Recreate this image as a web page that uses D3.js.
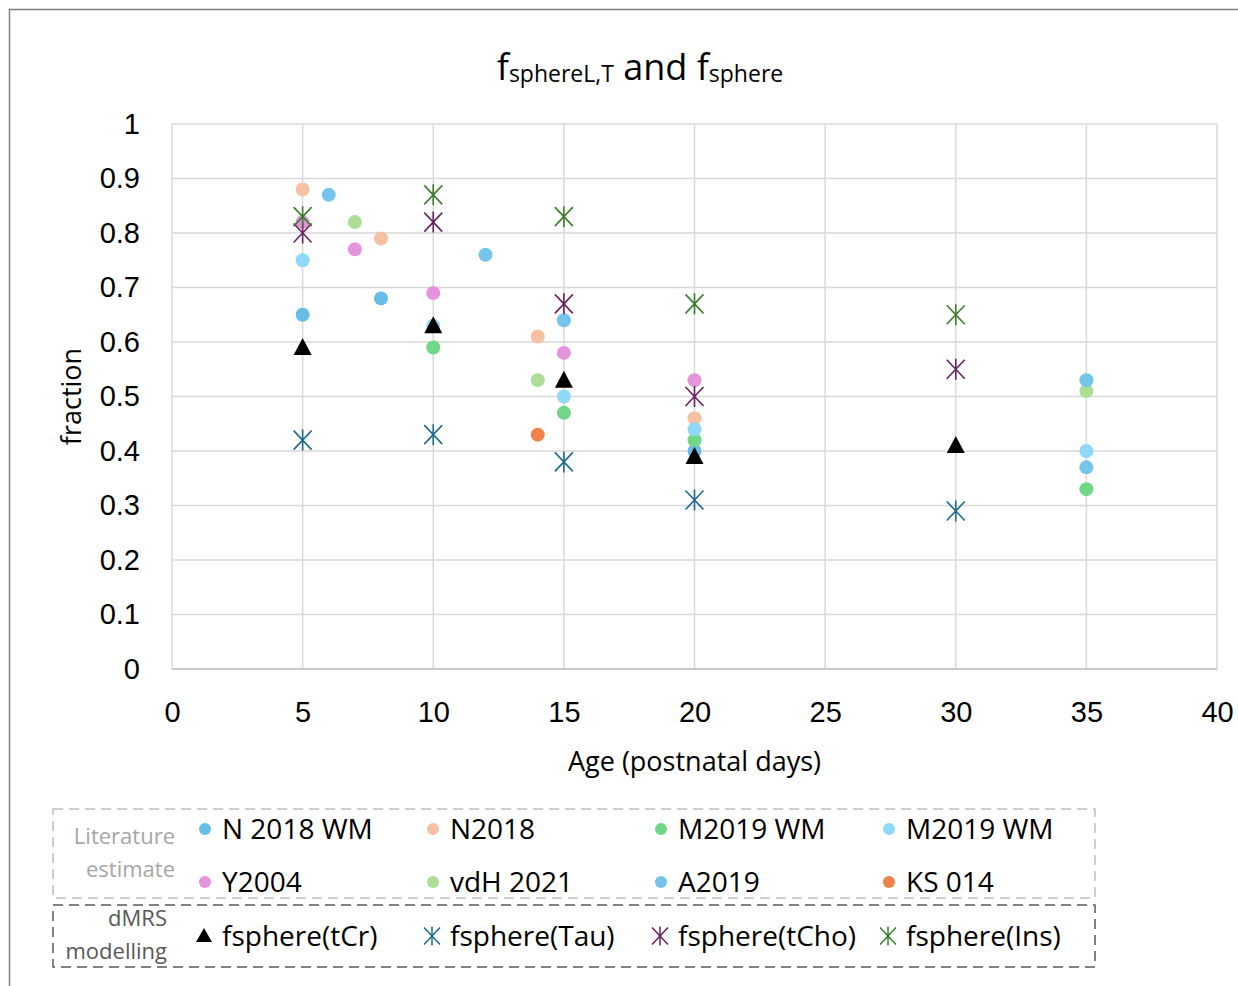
<!DOCTYPE html>
<html>
<head>
<meta charset="utf-8">
<script src="https://cdn.jsdelivr.net/npm/d3@7/dist/d3.min.js"></script>
<style>
  html, body { margin: 0; padding: 0; background: #fff; }
  svg { display: block; }
</style>
</head>
<body>
<svg id="chart" width="1238" height="986"></svg>
<script>
// ---- data ----
const xTicks = [0, 5, 10, 15, 20, 25, 30, 35, 40];
const yTicks = [0, 0.1, 0.2, 0.3, 0.4, 0.5, 0.6, 0.7, 0.8, 0.9, 1];

// literature estimates: [age, fraction]
const n2018wm  = [[5, 0.65], [8, 0.68], [20, 0.40]];
const n2018    = [[5, 0.88], [8, 0.79], [14, 0.61], [20, 0.46]];
const m2019wmA = [[10, 0.59], [15, 0.47], [20, 0.42], [35, 0.33]];
const m2019wmB = [[5, 0.75], [10, 0.63], [15, 0.50], [20, 0.44], [35, 0.40]];
const y2004    = [[5, 0.82], [7, 0.77], [10, 0.69], [15, 0.58], [20, 0.53]];
const vdh2021  = [[7, 0.82], [14, 0.53], [35, 0.51]];
const a2019    = [[6, 0.87], [12, 0.76], [15, 0.64], [35, 0.53], [35, 0.37]];
const ks014    = [[14, 0.43]];

// dMRS modelling
const fsphereTCr  = [[5, 0.59], [10, 0.63], [15, 0.53], [20, 0.39], [30, 0.41]];
const fsphereTau  = [[5, 0.42], [10, 0.43], [15, 0.38], [20, 0.31], [30, 0.29]];
const fsphereTCho = [[5, 0.80], [10, 0.82], [15, 0.67], [20, 0.50], [30, 0.55]];
const fsphereIns  = [[5, 0.83], [10, 0.87], [15, 0.83], [20, 0.67], [30, 0.65]];

const literature = [
  { name: "N 2018 WM", color: "#66bde6", data: n2018wm },
  { name: "N2018",     color: "#f5c1a2", data: n2018 },
  { name: "M2019 WM",  color: "#6fd785", data: m2019wmA },
  { name: "M2019 WM",  color: "#8fd8f7", data: m2019wmB },
  { name: "Y2004",     color: "#e394dc", data: y2004 },
  { name: "vdH 2021",  color: "#acdf95", data: vdh2021 },
  { name: "A2019",     color: "#74c4ec", data: a2019 },
  { name: "KS 014",    color: "#f0814a", data: ks014 }
];
const modelling = [
  { name: "fsphere(tCr)",  color: "#000000", shape: "triangle", data: fsphereTCr },
  { name: "fsphere(Tau)",  color: "#1f6b8c", shape: "star",     data: fsphereTau },
  { name: "fsphere(tCho)", color: "#6b2060", shape: "star",     data: fsphereTCho },
  { name: "fsphere(Ins)",  color: "#3b7d2c", shape: "star",     data: fsphereIns }
];

// ---- layout ----
const svg = d3.select("#chart");
const plot = { left: 172, right: 1217, top: 124, bottom: 669 };
const x = d3.scaleLinear().domain([0, 40]).range([plot.left, plot.right]);
const y = d3.scaleLinear().domain([0, 1]).range([plot.bottom, plot.top]);

const tickFont = "'Liberation Sans', Arial, sans-serif";
const textFont = "'Open Sans', 'Noto Sans', sans-serif";

// outer frame
svg.append("rect")
  .attr("x", 9.5).attr("y", 9.5).attr("width", 1240).attr("height", 990)
  .attr("fill", "none").attr("stroke", "#7f7f7f").attr("stroke-width", 1.5);

// gridlines
const grid = svg.append("g");
grid.selectAll("line.h").data(yTicks).join("line")
  .attr("x1", plot.left).attr("x2", plot.right)
  .attr("y1", d => y(d)).attr("y2", d => y(d))
  .attr("stroke", "#d9d9d9").attr("stroke-width", 1.5);
grid.selectAll("line.v").data(xTicks).join("line")
  .attr("y1", plot.top).attr("y2", plot.bottom)
  .attr("x1", d => x(d)).attr("x2", d => x(d))
  .attr("stroke", "#d9d9d9").attr("stroke-width", 1.5);

// axes (labels only, lines handled by the grid)
const xAxis = svg.append("g")
  .attr("transform", `translate(0,${plot.bottom})`)
  .call(d3.axisBottom(x).tickValues(xTicks).tickSize(0).tickPadding(32).tickFormat(d3.format("d")));
const yAxis = svg.append("g")
  .attr("transform", `translate(${plot.left},0)`)
  .call(d3.axisLeft(y).tickValues(yTicks).tickSize(0).tickPadding(32).tickFormat(d => d === 0 || d === 1 ? d3.format("d")(d) : d3.format(".1f")(d)));
[xAxis, yAxis].forEach(a => {
  a.select(".domain").remove();
  a.selectAll("text").attr("font-family", tickFont).attr("font-size", 29).attr("fill", "#000");
});
svg.append("line")
  .attr("x1", plot.left).attr("x2", plot.right).attr("y1", plot.bottom).attr("y2", plot.bottom)
  .attr("stroke", "#bfbfbf").attr("stroke-width", 1.5);

// axis titles
svg.append("text")
  .attr("x", x(20)).attr("y", 771).attr("text-anchor", "middle")
  .attr("font-family", textFont).attr("font-size", 27).attr("fill", "#000")
  .text("Age (postnatal days)");
svg.append("text")
  .attr("transform", `translate(81,${y(0.5)}) rotate(-90)`).attr("text-anchor", "middle")
  .attr("font-family", textFont).attr("font-size", 27).attr("fill", "#000")
  .text("fraction");

// chart title with subscripts
const title = svg.append("text")
  .attr("x", 640).attr("y", 80).attr("text-anchor", "middle")
  .attr("font-family", textFont).attr("fill", "#000");
title.append("tspan").attr("font-size", 36).text("f");
title.append("tspan").attr("font-size", 23).attr("dy", 2).text("sphereL,T");
title.append("tspan").attr("font-size", 36).attr("dy", -2).text(" and f");
title.append("tspan").attr("font-size", 23).attr("dy", 2).text("sphere");

// marker shapes
const triPath = "M0,-9.5L9,7.5L-9,7.5Z";
const starPath = "M-9,-9.5L9,9.5M9,-9.5L-9,9.5M0,-10.5L0,10.5";

function drawMarker(g, shape, color) {
  if (shape === "circle") {
    g.append("circle").attr("r", 7).attr("fill", color);
  } else if (shape === "triangle") {
    g.append("path").attr("d", triPath).attr("fill", color);
  } else {
    g.append("path").attr("d", starPath).attr("fill", "none")
      .attr("stroke", color).attr("stroke-width", 1.6);
  }
}

// literature points
const pts = svg.append("g");
literature.forEach(s => {
  s.data.forEach(d => {
    const g = pts.append("g").attr("transform", `translate(${x(d[0])},${y(d[1])})`);
    drawMarker(g, "circle", s.color);
  });
});
// modelling points
modelling.forEach(s => {
  s.data.forEach(d => {
    const g = pts.append("g").attr("transform", `translate(${x(d[0])},${y(d[1])})`);
    drawMarker(g, s.shape, s.color);
  });
});

// ---- legend ----
const legend = svg.append("g");
legend.append("rect")
  .attr("x", 53).attr("y", 809).attr("width", 1042).attr("height", 89)
  .attr("fill", "none").attr("stroke", "#bfbfbf").attr("stroke-width", 1.5)
  .attr("stroke-dasharray", "10,6");
legend.append("rect")
  .attr("x", 53).attr("y", 905).attr("width", 1042).attr("height", 62)
  .attr("fill", "none").attr("stroke", "#595959").attr("stroke-width", 1.5)
  .attr("stroke-dasharray", "10,6");

const groupLabels = [
  { lines: ["Literature", "estimate"], x: 175, y: [844, 877], color: "#a6a6a6" },
  { lines: ["dMRS", "modelling"], x: 167, y: [926, 959], color: "#595959" }
];
groupLabels.forEach(gl => {
  gl.lines.forEach((t, i) => {
    legend.append("text")
      .attr("x", gl.x).attr("y", gl.y[i]).attr("text-anchor", "end")
      .attr("font-family", textFont).attr("font-size", 22).attr("fill", gl.color)
      .text(t);
  });
});

const colX = [205, 433, 661, 889];
const rowY = [829, 882];
literature.forEach((s, i) => {
  const cx = colX[i % 4], cy = rowY[Math.floor(i / 4)];
  const g = legend.append("g").attr("transform", `translate(${cx},${cy})`);
  g.append("circle").attr("r", 6).attr("fill", s.color);
  legend.append("text")
    .attr("x", cx + 17).attr("y", cy + 10)
    .attr("font-family", textFont).attr("font-size", 28).attr("fill", "#000")
    .text(s.name);
});
modelling.forEach((s, i) => {
  const cx = colX[i] - 1, cy = 936;
  const g = legend.append("g").attr("transform", `translate(${cx},${cy})`);
  if (s.shape === "triangle") {
    g.append("path").attr("d", "M0,-8L8,6L-8,6Z").attr("fill", s.color);
  } else {
    g.append("path").attr("d", "M-8,-8.5L8,8.5M8,-8.5L-8,8.5M0,-9.5L0,9.5")
      .attr("fill", "none").attr("stroke", s.color).attr("stroke-width", 1.5);
  }
  legend.append("text")
    .attr("x", cx + 18).attr("y", cy + 10)
    .attr("font-family", textFont).attr("font-size", 28).attr("fill", "#000")
    .text(s.name);
});
</script>
</body>
</html>
